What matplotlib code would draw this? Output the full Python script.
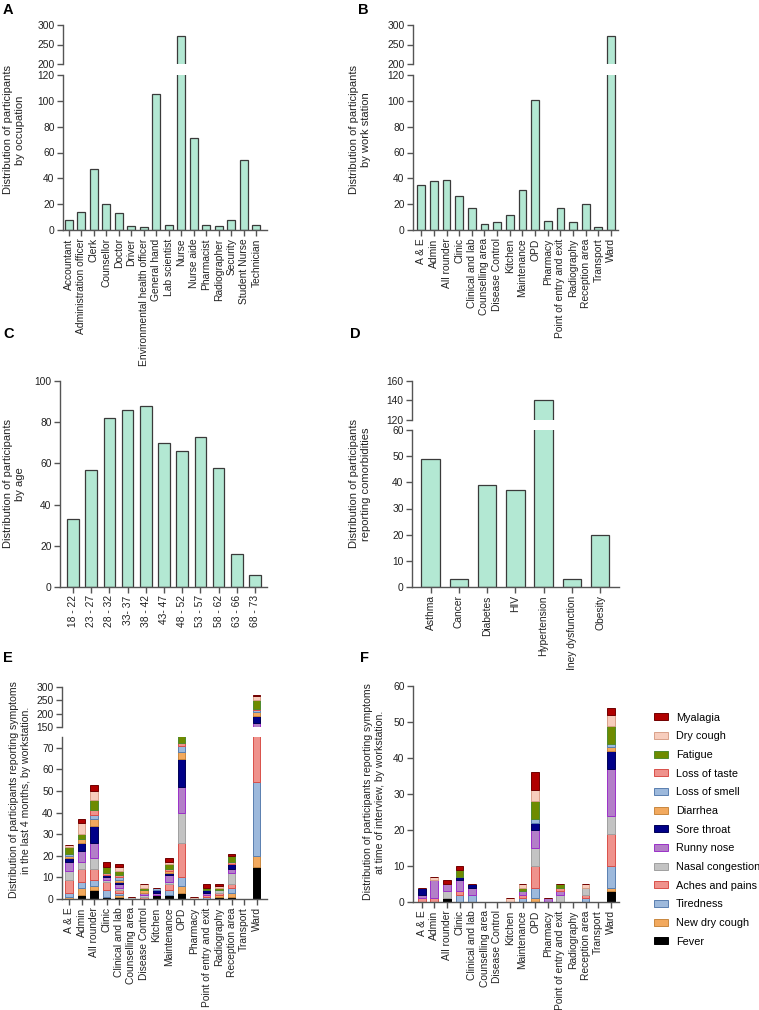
import matplotlib.pyplot as plt
import numpy as np
from matplotlib.transforms import Bbox, TransformedBbox

plt.rcParams['font.family'] = ['Liberation Sans', 'DejaVu Sans']

# ---------------- data ----------------
occupations = ["Accountant", "Administration officer", "Clerk", "Counsellor", "Doctor", "Driver",
               "Environmental health officer", "General hand", "Lab scientist", "Nurse", "Nurse aide",
               "Pharmacist", "Radiographer", "Security", "Student Nurse", "Technician"]
occupation_counts = [8, 14, 47, 20, 13, 3, 2, 105, 4, 273, 71, 4, 3, 8, 54, 4]

stations = ["A & E", "Admin", "All rounder", "Clinic", "Clinical and lab", "Counselling area",
            "Disease Control", "Kitchen", "Maintenance", "OPD", "Pharmacy", "Point of entry and exit",
            "Radiography", "Reception area", "Transport", "Ward"]
station_counts = [35, 38, 39, 26, 17, 5, 6, 12, 31, 101, 7, 17, 6, 20, 2, 271]

age_groups = ["18 - 22", "23 - 27", "28 - 32", "33- 37", "38 - 42", "43- 47", "48 - 52",
              "53 - 57", "58 - 62", "63 - 66", "68 - 73"]
age_counts = [33, 57, 82, 86, 88, 70, 66, 73, 58, 16, 6]

comorbidities = ["Asthma", "Cancer", "Diabetes", "HIV", "Hypertension", "Kidney dysfunction", "Obesity"]
comorbidity_counts = [49, 3, 39, 37, 140, 3, 20]

symptoms = ["Fever", "New dry cough", "Tiredness", "Aches and pains", "Nasal congestion",
            "Runny nose", "Sore throat", "Diarrhea", "Loss of smell", "Loss of taste",
            "Fatigue", "Dry cough", "Myalagia"]

# symptoms in last 4 months, one list per symptom, values per workstation
last4 = {
    "Fever":            [0, 2, 4, 1, 1, 0, 0, 2, 2, 3, 0, 0, 1, 1, 0, 15],
    "New dry cough":    [1, 3, 2, 0, 1, 0, 0, 0, 0, 3, 0, 0, 1, 2, 0, 5],
    "Tiredness":        [2, 3, 3, 3, 1, 0, 0, 0, 2, 4, 0, 1, 0, 2, 0, 34],
    "Aches and pains":  [6, 6, 5, 4, 1, 0, 1, 0, 3, 16, 0, 1, 1, 2, 0, 46],
    "Nasal congestion": [4, 3, 5, 1, 1, 1, 1, 0, 1, 14, 0, 0, 1, 5, 0, 36],
    "Runny nose":       [4, 5, 7, 1, 2, 0, 1, 1, 3, 12, 0, 1, 0, 2, 0, 30],
    "Sore throat":      [2, 4, 8, 1, 1, 0, 0, 1, 1, 13, 0, 1, 0, 2, 0, 25],
    "Diarrhea":         [1, 2, 3, 0, 1, 0, 1, 0, 1, 3, 0, 0, 0, 0, 0, 14],
    "Loss of smell":    [1, 0, 2, 0, 1, 0, 0, 1, 0, 3, 0, 0, 0, 0, 0, 7],
    "Loss of taste":    [0, 0, 2, 1, 1, 0, 0, 0, 1, 1, 0, 0, 0, 1, 0, 6],
    "Fatigue":          [3, 2, 5, 3, 2, 0, 1, 0, 2, 4, 0, 1, 1, 3, 0, 34],
    "Dry cough":        [1, 5, 4, 0, 2, 0, 2, 0, 1, 0, 1, 0, 1, 0, 0, 13],
    "Myalagia":         [0, 2, 3, 2, 1, 0, 0, 0, 2, 0, 0, 2, 1, 1, 0, 6],
}

# symptoms at time of interview
now = {
    "Fever":            [0, 0, 1, 0, 0, 0, 0, 0, 0, 0, 0, 0, 0, 0, 0, 3],
    "New dry cough":    [0, 0, 0, 0, 0, 0, 0, 0, 0, 1, 0, 0, 0, 0, 0, 1],
    "Tiredness":        [0, 0, 0, 2, 2, 0, 0, 0, 1, 3, 0, 0, 0, 1, 0, 6],
    "Aches and pains":  [1, 1, 0, 1, 0, 0, 0, 0, 1, 6, 0, 0, 0, 1, 0, 9],
    "Nasal congestion": [0, 0, 2, 0, 0, 0, 0, 0, 0, 5, 0, 2, 0, 2, 0, 5],
    "Runny nose":       [1, 5, 2, 3, 2, 0, 0, 0, 1, 5, 1, 1, 0, 0, 0, 13],
    "Sore throat":      [2, 0, 0, 1, 1, 0, 0, 0, 0, 2, 0, 0, 0, 0, 0, 5],
    "Diarrhea":         [0, 0, 0, 0, 0, 0, 0, 0, 0, 0, 0, 0, 0, 0, 0, 1],
    "Loss of smell":    [0, 0, 0, 0, 0, 0, 0, 0, 0, 1, 0, 0, 0, 0, 0, 1],
    "Loss of taste":    [0, 0, 0, 0, 0, 0, 0, 0, 0, 0, 0, 1, 0, 0, 0, 0],
    "Fatigue":          [0, 0, 0, 2, 0, 0, 0, 0, 1, 5, 0, 1, 0, 0, 0, 5],
    "Dry cough":        [0, 1, 0, 0, 0, 0, 0, 1, 1, 3, 0, 0, 0, 1, 0, 3],
    "Myalagia":         [0, 0, 1, 1, 0, 0, 0, 0, 0, 5, 0, 0, 0, 0, 0, 2],
}

# fill / edge colours per symptom
sym_fill = ["#000000", "#F2A95E", "#9DB9DC", "#EF928C", "#C3C3C3", "#B37FC8", "#000088",
            "#F2A95E", "#9DB9DC", "#EF928C", "#6E8B00", "#F7CDBD", "#B00000"]
sym_edge = ["#000000", "#C8873F", "#5A7FB0", "#D9504A", "#A0A0A0", "#9B30C8", "#000055",
            "#C8873F", "#5A7FB0", "#D9504A", "#4E8B2E", "#D8A08A", "#700000"]

MINT = "#B3E8D3"
EDGE = "#3a3a3a"
SPINE = "#555555"
TICK_FS = 7.4

W, H = 759, 1010
fig = plt.figure(figsize=(W / 100, H / 100), dpi=100)


def axes_px(left, top, right, bottom):
    return fig.add_axes([left / W, 1 - bottom / H, (right - left) / W, (bottom - top) / H])


def style(ax, xlabels=None):
    for s in ["top", "right"]:
        ax.spines[s].set_visible(False)
    for s in ["left", "bottom"]:
        ax.spines[s].set_color(SPINE)
        ax.spines[s].set_linewidth(1)
    ax.tick_params(colors="#222222", labelsize=TICK_FS, length=4, width=1, color=SPINE, pad=2)
    if xlabels is None:
        ax.spines["bottom"].set_visible(False)
        ax.tick_params(axis="x", bottom=False, labelbottom=False)
    else:
        ax.set_xticks(np.arange(len(xlabels)))
        ax.set_xticklabels(xlabels, rotation=90, fontsize=TICK_FS)


def simple_bars(ax, values, width):
    ax.bar(np.arange(len(values)), values, width=width, color=MINT, edgecolor=EDGE, linewidth=0.9)


def broken(left, right, top_px, mid1, mid2, bot_px, labels, values, ylo, yhi, yticks_lo, yticks_hi,
           xlim, width):
    ax_t = axes_px(left, top_px, right, mid1)
    ax_b = axes_px(left, mid2, right, bot_px)
    for ax in (ax_t, ax_b):
        simple_bars(ax, values, width)
        ax.set_xlim(*xlim)
    ax_t.set_ylim(*yhi)
    ax_b.set_ylim(*ylo)
    ax_t.set_yticks(yticks_hi)
    ax_b.set_yticks(yticks_lo)
    style(ax_t)
    style(ax_b, labels)
    return ax_t, ax_b


# A
broken(63, 267, 25, 64, 75, 230, occupations, occupation_counts, (0, 120), (200, 300),
       range(0, 121, 20), [200, 250, 300], (-0.45, 15.85), 0.62)
# B
broken(413, 618, 25, 64, 75, 230, stations, station_counts, (0, 120), (200, 300),
       range(0, 121, 20), [200, 250, 300], (-0.65, 15.55), 0.62)

# C
axC = axes_px(60, 381, 267, 587)
simple_bars(axC, age_counts, 0.64)
axC.set_xlim(-0.71, 10.66)
axC.set_ylim(0, 100)
axC.set_yticks(range(0, 101, 20))
style(axC, age_groups)

# D
axD_t, axD_b = broken(412, 619, 381, 420, 430, 587, comorbidities, comorbidity_counts, (0, 60),
                      (120, 160), range(0, 61, 10), [120, 140, 160], (-0.66, 6.67), 0.66)
# the panel is cropped at its lower edge in the original figure
clip = TransformedBbox(Bbox([[0, 1 - 670 / H], [1, 1]]), fig.transFigure)
for lab in axD_b.get_xticklabels():
    lab.set_clip_box(clip)
    lab.set_clip_on(True)


def stacked(ax, data):
    x = np.arange(len(stations))
    bottom = np.zeros(len(stations))
    handles = []
    for i, s in enumerate(symptoms):
        vals = np.array(data[s], dtype=float)
        h = ax.bar(x, vals, bottom=bottom, width=0.62, color=sym_fill[i], edgecolor=sym_edge[i],
                   linewidth=0.7, label=s)
        handles.append(h)
        bottom += vals
    return handles


# E
axE_t = axes_px(62, 687, 267, 727)
axE_b = axes_px(62, 737, 267, 899)
for ax in (axE_t, axE_b):
    stacked(ax, last4)
    ax.set_xlim(-0.56, 15.84)
axE_t.set_ylim(150, 300)
axE_t.set_yticks([150, 200, 250, 300])
axE_b.set_ylim(0, 75)
axE_b.set_yticks(range(0, 71, 10))
style(axE_t)
style(axE_b, stations)

# F
axF = axes_px(413, 686, 619, 902)
handles = stacked(axF, now)
axF.set_xlim(-0.69, 15.65)
axF.set_ylim(0, 60)
axF.set_yticks(range(0, 61, 10))
style(axF, stations)

leg = fig.legend(handles[::-1], symptoms[::-1], loc="upper left",
                 bbox_to_anchor=(645 / W, 1 - 704 / H), frameon=False, fontsize=7.8,
                 handlelength=1.3, handleheight=0.65, labelspacing=0.8, handletextpad=0.75,
                 borderpad=0.3)

# y labels
lab_kw = dict(rotation=90, ha="center", va="center", color="#222222", multialignment="center")
fig.text(14 / W, 1 - 130 / H, "Distribution of participants\nby occupation", fontsize=8, **lab_kw)
fig.text(360 / W, 1 - 130 / H, "Distribution of participants\nby work station", fontsize=8, **lab_kw)
fig.text(14 / W, 1 - 484 / H, "Distribution of participants\nby age", fontsize=8, **lab_kw)
fig.text(360 / W, 1 - 484 / H, "Distribution of participants\nreporting comorbidities", fontsize=8,
         **lab_kw)
fig.text(20 / W, 1 - 790 / H, "Distribution of participants reporting symptoms\n"
         "in the last 4 months, by workstation.", fontsize=7.6, **lab_kw)
fig.text(374 / W, 1 - 792 / H, "Distribution of participants reporting symptoms\n"
         "at time of interview, by workstation.", fontsize=7.6, **lab_kw)

# panel letters
for letter, x, y in [("A", 3, 3), ("B", 358, 3), ("C", 3, 327), ("D", 350, 327),
                     ("E", 3, 651), ("F", 360, 651)]:
    fig.text(x / W, 1 - y / H, letter, fontsize=10.5, fontweight="bold", va="top", ha="left")

fig.savefig("out.png", dpi=100)
